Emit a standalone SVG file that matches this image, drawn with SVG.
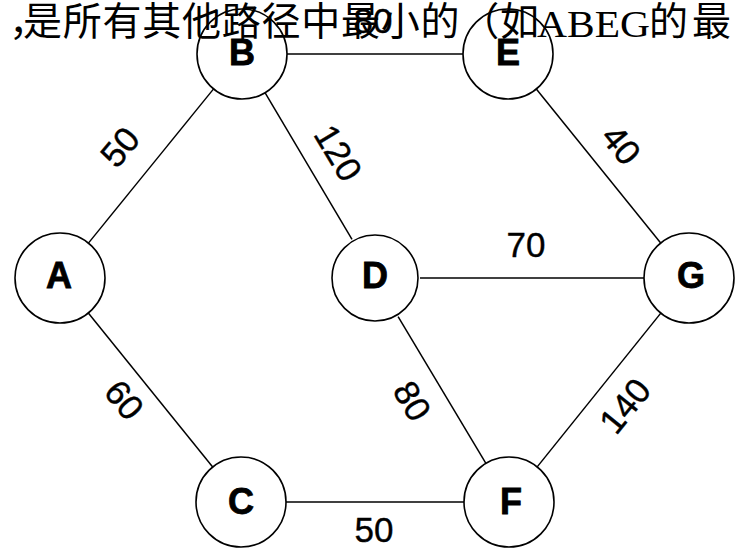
<svg xmlns="http://www.w3.org/2000/svg" width="745" height="549" viewBox="0 0 745 549">
<style>
.node circle{fill:#fff;stroke:#000;stroke-width:1.6}
.node text{font-family:"Liberation Sans",Arial,sans-serif;font-weight:bold;font-size:36px;text-anchor:middle;fill:#000;stroke:#000;stroke-width:0.8}
.edges line{stroke:#000;stroke-width:1.5}
.lbl{font-family:"Liberation Sans",Arial,sans-serif;font-size:35px;text-anchor:middle;fill:#000;stroke:#000;stroke-width:0.4}
.cjk{font-family:"Noto Sans CJK SC","Noto Sans",sans-serif;font-size:39px;fill:#000}
.ser{font-family:"Liberation Serif","Times New Roman",serif;font-size:38px;fill:#000}
</style>
<rect width="745" height="549" fill="#fff"/>
<g id="connectors" class="edges">
<line x1="88.4" y1="243.1" x2="213.6" y2="88.9"/>
<line x1="265" y1="92.7" x2="352" y2="239.3"/>
<line x1="287" y1="54" x2="463" y2="54"/>
<line x1="536.3" y1="89" x2="660.7" y2="243"/>
<line x1="420" y1="278" x2="644" y2="278"/>
<line x1="88.3" y1="313" x2="212.7" y2="467"/>
<line x1="398.1" y1="316.6" x2="485.9" y2="463.4"/>
<line x1="660.8" y1="313.1" x2="537.2" y2="466.9"/>
<line x1="286" y1="502" x2="464" y2="502"/>
</g>
<g id="edge-labels">
<text class="lbl" transform="translate(120,147) rotate(-50)" y="12">50</text>
<text class="lbl" transform="translate(338,153) rotate(59)" y="12">120</text>
<text class="lbl" transform="translate(621,145) rotate(51)" y="12">40</text>
<text class="lbl" transform="translate(124,400) rotate(51)" y="12">60</text>
<text class="lbl" transform="translate(412,401) rotate(59)" y="12">80</text>
<text class="lbl" transform="translate(625,406) rotate(-51)" y="12">140</text>
<text class="lbl" x="526" y="257">70</text>
<text class="lbl" x="374" y="542">50</text>
<text class="lbl" x="373" y="33">80</text>
</g>
<g id="node-A" class="node"><circle cx="60" cy="278" r="45"/><text x="59" y="288">A</text></g>
<g id="node-B" class="node"><circle cx="242" cy="54" r="45"/><text x="242" y="65">B</text></g>
<g id="node-C" class="node"><circle cx="241" cy="502" r="45"/><text x="241" y="514">C</text></g>
<g id="node-D" class="node"><circle cx="375" cy="278" r="43"/><text x="375" y="288">D</text></g>
<g id="node-E" class="node"><circle cx="508" cy="54" r="45"/><text x="508" y="65">E</text></g>
<g id="node-F" class="node"><circle cx="509" cy="502" r="45"/><text x="511" y="514">F</text></g>
<g id="node-G" class="node"><circle cx="689" cy="278" r="45"/><text x="691" y="288">G</text></g>
<g id="caption">
<text class="cjk" x="9" y="35">，</text>
<text class="cjk" x="23" y="35" textLength="516" lengthAdjust="spacing">是所有其他路径中最小的（如</text>
<text class="ser" x="537" y="37" textLength="113" lengthAdjust="spacingAndGlyphs">ABEG</text>
<text class="cjk" x="649" y="35" textLength="82" lengthAdjust="spacing">的最</text>
</g>
</svg>
